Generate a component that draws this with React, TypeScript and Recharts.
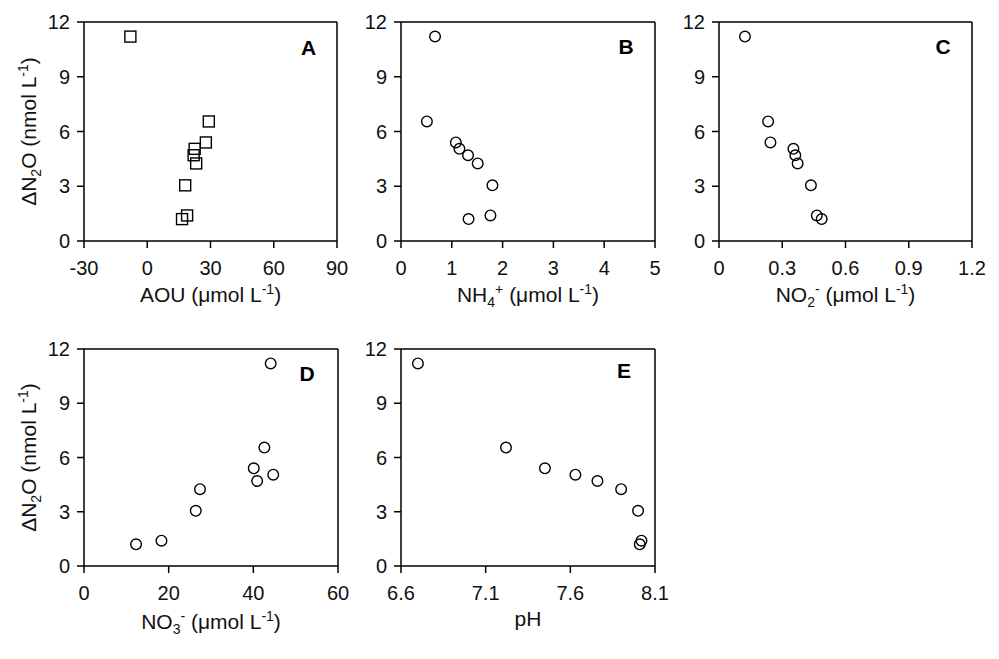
import { ScatterChart, Scatter, XAxis, YAxis, ReferenceLine } from 'recharts';

// ΔN2O, same order in every panel
const N2O = [11.2, 6.55, 5.4, 5.05, 4.7, 4.25, 3.05, 1.4, 1.2];
const AOU = [-8, 29.2, 27.8, 22.5, 22, 23.2, 18, 18.9, 16.5];
const NH4 = [0.67, 0.51, 1.08, 1.15, 1.32, 1.51, 1.8, 1.76, 1.33];
const NO2 = [0.123, 0.233, 0.244, 0.353, 0.362, 0.373, 0.436, 0.464, 0.487];
const NO3 = [44.1, 42.6, 40.1, 44.7, 40.9, 27.4, 26.4, 18.3, 12.3];
const PH = [6.7, 7.22, 7.45, 7.63, 7.76, 7.9, 8.0, 8.02, 8.01];

const Y_TICKS = [0, 3, 6, 9, 12];
const AOU_TICKS = [-30, 0, 30, 60, 90];
const NH4_TICKS = [0, 1, 2, 3, 4, 5];
const NO2_TICKS = [0, 0.3, 0.6, 0.9, 1.2];
const NO3_TICKS = [0, 20, 40, 60];
const PH_TICKS = [6.6, 7.1, 7.6, 8.1];

const FONT = '"Liberation Sans", Arial, Helvetica, sans-serif';
const INK = '#111';

const pairs = (xs: number[]) => xs.map((x, i) => ({ x, y: N2O[i] }));

const Circle = (p: any) => (
  <circle cx={p.cx} cy={p.cy} r={5.3} fill="none" stroke="#000" strokeWidth={1.4} />
);
const Square = (p: any) => (
  <rect x={p.cx - 5.5} y={p.cy - 5.5} width={11} height={11} fill="none" stroke="#000" strokeWidth={1.4} />
);

interface PanelProps {
  left: number;
  top: number;
  w: number;
  h: number;
  data: { x: number; y: number }[];
  ticks: number[];
  square?: boolean;
}

function Panel({ left, top, w, h, data, ticks, square }: PanelProps) {
  const xMin = ticks[0];
  const xMax = ticks[ticks.length - 1];
  const axisStyle = { stroke: '#000', strokeWidth: 1.5 };
  return (
    <div style={{ position: 'absolute', left: left - 70, top: top - 10 }}>
      <ScatterChart width={w + 90} height={h + 60} margin={{ top: 10, right: 20, left: 0, bottom: 0 }}>
        <XAxis
          type="number"
          dataKey="x"
          domain={[xMin, xMax]}
          ticks={ticks}
          interval={0}
          height={50}
          tickSize={7}
          tickMargin={13}
          axisLine={axisStyle}
          tickLine={axisStyle}
          tick={{ fill: INK, fontSize: 20, fontFamily: FONT }}
        />
        <YAxis
          type="number"
          dataKey="y"
          domain={[0, 12]}
          ticks={Y_TICKS}
          interval={0}
          width={70}
          tickSize={7}
          tickMargin={7}
          axisLine={axisStyle}
          tickLine={axisStyle}
          tick={{ fill: INK, fontSize: 20, fontFamily: FONT }}
        />
        <ReferenceLine x={xMax} stroke="#000" strokeWidth={1.5} />
        <ReferenceLine y={12} stroke="#000" strokeWidth={1.5} />
        <Scatter data={data} shape={square ? Square : Circle} isAnimationActive={false} />
      </ScatterChart>
    </div>
  );
}

const SUB = { fontSize: 14 };

function XTitle({ cx, y, children }: { cx: number; y: number; children: any }) {
  return (
    <text x={cx} y={y} textAnchor="middle" fontFamily={FONT} fontSize={21} fill={INK}>
      {children}
    </text>
  );
}

// "(μmol L-1)", starting on the main baseline
const Unit = () => (
  <>
    <tspan>(μmol L</tspan>
    <tspan dy={-8} {...SUB}>-1</tspan>
    <tspan dy={8}>)</tspan>
  </>
);

// ion name with subscript and superscript charge, back on the baseline after
const Ion = ({ base, sub, sup }: { base: string; sub: string; sup: string }) => (
  <>
    <tspan>{base}</tspan>
    <tspan dy={5} {...SUB}>{sub}</tspan>
    <tspan dy={-13} {...SUB}>{sup}</tspan>
    <tspan dy={8}>{' '}</tspan>
  </>
);

export default function App() {
  const top = { t: 22, h: 219 };
  const bot = { t: 349, h: 217 };
  return (
    <div style={{ position: 'absolute', left: 0, top: 0, width: 999, height: 659, background: '#fff' }}>
      <Panel left={84} top={top.t} w={253} h={top.h} data={pairs(AOU)} ticks={AOU_TICKS} square />
      <Panel left={401} top={top.t} w={254} h={top.h} data={pairs(NH4)} ticks={NH4_TICKS} />
      <Panel left={719} top={top.t} w={253} h={top.h} data={pairs(NO2)} ticks={NO2_TICKS} />
      <Panel left={84} top={bot.t} w={254} h={bot.h} data={pairs(NO3)} ticks={NO3_TICKS} />
      <Panel left={401} top={bot.t} w={254} h={bot.h} data={pairs(PH)} ticks={PH_TICKS} />

      <svg width={999} height={659} style={{ position: 'absolute', left: 0, top: 0, pointerEvents: 'none' }}>
        {/* panel letters */}
        <g fontFamily={FONT} fontSize={21} fontWeight="bold" fill="#000" textAnchor="middle">
          <text x={308.5} y={55}>A</text>
          <text x={626} y={54}>B</text>
          <text x={943} y={54}>C</text>
          <text x={307} y={381}>D</text>
          <text x={624} y={378}>E</text>
        </g>

        {/* x titles */}
        <XTitle cx={84 + 253 / 2} y={top.t + top.h + 61}>
          <tspan>AOU </tspan>
          <Unit />
        </XTitle>
        <XTitle cx={401 + 127} y={top.t + top.h + 61}>
          <Ion base="NH" sub="4" sup="+" />
          <Unit />
        </XTitle>
        <XTitle cx={719 + 253 / 2} y={top.t + top.h + 61}>
          <Ion base="NO" sub="2" sup="-" />
          <Unit />
        </XTitle>
        <XTitle cx={84 + 127} y={bot.t + bot.h + 63}>
          <Ion base="NO" sub="3" sup="-" />
          <Unit />
        </XTitle>
        <XTitle cx={401 + 127} y={bot.t + bot.h + 60}>pH</XTitle>

        {/* y titles */}
        {[top, bot].map((r, i) => (
          <text
            key={i}
            transform={`translate(36, ${r.t + r.h / 2}) rotate(-90)`}
            textAnchor="middle"
            fontFamily={FONT}
            fontSize={21}
            fill={INK}
          >
            ΔN<tspan dy={5} {...SUB}>2</tspan>
            <tspan dy={-5}>O (nmol L</tspan>
            <tspan dy={-8} {...SUB}>-1</tspan>
            <tspan dy={8}>)</tspan>
          </text>
        ))}
      </svg>
    </div>
  );
}
